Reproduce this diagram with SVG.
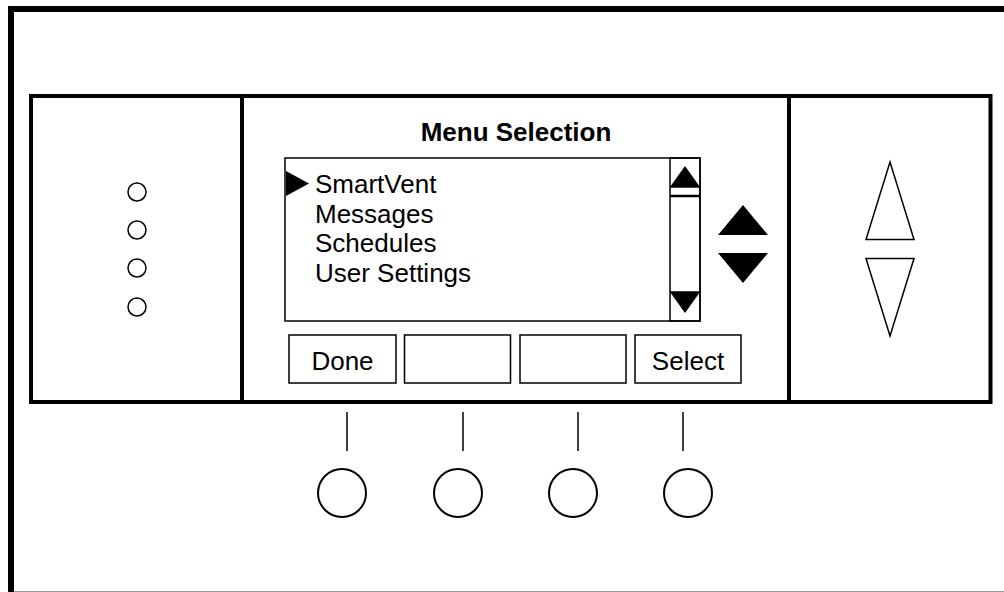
<svg xmlns="http://www.w3.org/2000/svg" width="1004" height="592" viewBox="0 0 1004 592">
<style>
.t{font-family:"Liberation Sans",Arial,sans-serif;font-size:26px;fill:#000}
.b{font-weight:bold;text-anchor:middle}
.c{text-anchor:middle}
.thin{fill:none;stroke:#000;stroke-width:1.5}
.thick{fill:none;stroke:#000;stroke-width:4}
.solid{fill:#000;stroke:none}
</style>
<rect width="1004" height="592" fill="#fff"/>
<g id="frame">
<rect x="11" y="9" width="1010" height="585.6" fill="none" stroke="#000" stroke-width="6"/>
</g>
<g id="panel">
<rect class="thick" x="31" y="96" width="959.5" height="306"/>
<line class="thick" x1="242" y1="96" x2="242" y2="402"/>
<line class="thick" x1="789" y1="96" x2="789" y2="402"/>
</g>
<g id="leds">
<circle class="thin" cx="137" cy="192" r="9"/>
<circle class="thin" cx="137" cy="230" r="9"/>
<circle class="thin" cx="137" cy="268" r="9"/>
<circle class="thin" cx="137" cy="307" r="9"/>
</g>
<g id="title">
<text class="t b" x="516" y="141">Menu Selection</text>
</g>
<g id="listbox">
<rect class="thin" x="285" y="158" width="415" height="163"/>
<polygon class="solid" points="286,171 309,183.5 286,196"/>
<text class="t" x="315" y="193">SmartVent</text>
<text class="t" x="315" y="222.5">Messages</text>
<text class="t" x="315" y="252">Schedules</text>
<text class="t" x="315" y="281.5">User Settings</text>
</g>
<g id="scrollbar">
<rect class="thin" x="670" y="158" width="30" height="163"/>
<polygon class="solid" points="670,187 685,166 700,187"/>
<line x1="670" y1="187" x2="700" y2="187" stroke="#000" stroke-width="1.5"/>
<line x1="670" y1="196" x2="700" y2="196" stroke="#000" stroke-width="2.5"/>
<line x1="670" y1="292" x2="700" y2="292" stroke="#000" stroke-width="1.5"/>
<polygon class="solid" points="670,292 700,292 685,313"/>
</g>
<g id="nav-arrows">
<polygon class="solid" points="718,235 743,205 768,235"/>
<polygon class="solid" points="718,253 768,253 743,283"/>
</g>
<g id="right-arrows">
<polygon class="thin" points="866,239.5 890,162 914,239.5"/>
<polygon class="thin" points="866,258.5 914,258.5 890,336"/>
</g>
<g id="softkey-done">
<rect class="thin" x="289" y="335" width="107" height="48"/>
<text class="t c" x="342.5" y="370">Done</text>
</g>
<g id="softkey-2">
<rect class="thin" x="404.5" y="335" width="106" height="48"/>
</g>
<g id="softkey-3">
<rect class="thin" x="520" y="335" width="106" height="48"/>
</g>
<g id="softkey-select">
<rect class="thin" x="635" y="335" width="106" height="48"/>
<text class="t c" x="688" y="370">Select</text>
</g>
<g id="connectors">
<line class="thin" x1="347" y1="412" x2="347" y2="451"/>
<line class="thin" x1="463" y1="412" x2="463" y2="451"/>
<line class="thin" x1="578" y1="412" x2="578" y2="451"/>
<line class="thin" x1="683" y1="412" x2="683" y2="451"/>
</g>
<g id="buttons">
<circle cx="342" cy="493" r="24" fill="none" stroke="#000" stroke-width="2"/>
<circle cx="458" cy="493" r="24" fill="none" stroke="#000" stroke-width="2"/>
<circle cx="573" cy="493" r="24" fill="none" stroke="#000" stroke-width="2"/>
<circle cx="688" cy="493" r="24" fill="none" stroke="#000" stroke-width="2"/>
</g>
</svg>
